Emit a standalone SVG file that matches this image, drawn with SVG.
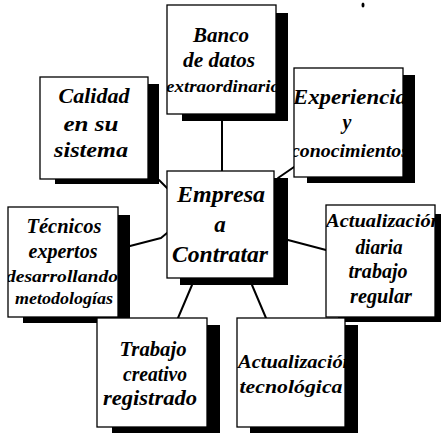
<svg xmlns="http://www.w3.org/2000/svg" width="441" height="433" viewBox="0 0 441 433">
<style>
.bg{fill:#fff}
.sh{fill:#000}
.bx{fill:#fff;stroke:#000;stroke-width:1.3}
.cn{fill:none;stroke:#000;stroke-width:2;stroke-linecap:round;stroke-linejoin:round}
text{font-family:"Liberation Serif","Times New Roman",serif;font-weight:bold;font-style:italic;fill:#000;text-anchor:middle}
.f23{font-size:23px}
.f21{font-size:21px}
.f20{font-size:20px}
.f19{font-size:19px}
.f17{font-size:17px}
</style>
<defs>
<clipPath id="cBanco"><rect x="167" y="5" width="109" height="109"/></clipPath>
<clipPath id="cExp"><rect x="294" y="68" width="109" height="109"/></clipPath>
<clipPath id="cTec"><rect x="8" y="207" width="110" height="110"/></clipPath>
<clipPath id="cDia"><rect x="326" y="205" width="109" height="112"/></clipPath>
<clipPath id="cAtec"><rect x="237" y="318" width="108" height="109"/></clipPath>
</defs>
<rect class="bg" x="0" y="0" width="441" height="433"/>
<ellipse cx="363" cy="5" rx="1.5" ry="2.5" fill="#000"/>

<g id="connectors">
<line class="cn" x1="222" y1="121" x2="222" y2="171"/>
<line class="cn" x1="278" y1="178" x2="294" y2="167"/>
<line class="cn" x1="159" y1="180" x2="167" y2="188"/>
<polyline class="cn" points="130,246 161,238 167,233"/>
<line class="cn" x1="288" y1="240" x2="326" y2="250"/>
<line class="cn" x1="192" y1="285" x2="178" y2="318"/>
<line class="cn" x1="252" y1="285" x2="266" y2="318"/>
</g>

<g id="calidad">
<rect class="sh" x="55" y="84" width="104" height="100"/>
<rect class="bx" x="40" y="77" width="108" height="102"/>
<text class="f21" x="94" y="103" textLength="71" lengthAdjust="spacingAndGlyphs">Calidad</text>
<text class="f21" x="91" y="131" textLength="55" lengthAdjust="spacingAndGlyphs">en su</text>
<text class="f21" x="91" y="157" textLength="74" lengthAdjust="spacingAndGlyphs">sistema</text>
</g>

<g id="banco">
<rect class="sh" x="182" y="13" width="106" height="108"/>
<rect class="bx" x="167" y="5" width="109" height="109"/>
<g clip-path="url(#cBanco)">
<text class="f21" x="221" y="42" textLength="56" lengthAdjust="spacingAndGlyphs">Banco</text>
<text class="f21" x="219" y="67" textLength="72" lengthAdjust="spacingAndGlyphs">de datos</text>
<text class="f17" x="223" y="92" textLength="114" lengthAdjust="spacingAndGlyphs">extraordinario</text>
</g>
</g>

<g id="experiencia">
<rect class="sh" x="307" y="75" width="108" height="108"/>
<rect class="bx" x="294" y="68" width="109" height="109"/>
<g clip-path="url(#cExp)">
<text class="f20" x="350" y="104" textLength="114" lengthAdjust="spacingAndGlyphs">Experiencia</text>
<text class="f20" x="347" y="129">y</text>
<text class="f19" x="350" y="157" textLength="118" lengthAdjust="spacingAndGlyphs">conocimientos</text>
</g>
</g>

<g id="empresa">
<rect class="sh" x="180" y="178" width="108" height="107"/>
<rect class="bx" x="167" y="171" width="107" height="107"/>
<text class="f23" x="221" y="202" textLength="88" lengthAdjust="spacingAndGlyphs">Empresa</text>
<text class="f23" x="220" y="232">a</text>
<text class="f23" x="220" y="262" textLength="96" lengthAdjust="spacingAndGlyphs">Contratar</text>
</g>

<g id="tecnicos">
<rect class="sh" x="23" y="215" width="107" height="108"/>
<rect class="bx" x="8" y="207" width="110" height="110"/>
<g clip-path="url(#cTec)">
<text class="f20" x="64" y="233" textLength="75" lengthAdjust="spacingAndGlyphs">Técnicos</text>
<text class="f20" x="63" y="258" textLength="69" lengthAdjust="spacingAndGlyphs">expertos</text>
<text class="f17" x="62" y="282" textLength="112" lengthAdjust="spacingAndGlyphs">desarrollando</text>
<text class="f17" x="64" y="304" textLength="98" lengthAdjust="spacingAndGlyphs">metodologías</text>
</g>
</g>

<g id="trabajo">
<rect class="sh" x="112" y="325" width="108" height="110"/>
<rect class="bx" x="97" y="318" width="110" height="109"/>
<text class="f20" x="153" y="356" textLength="67" lengthAdjust="spacingAndGlyphs">Trabajo</text>
<text class="f20" x="155" y="381" textLength="64" lengthAdjust="spacingAndGlyphs">creativo</text>
<text class="f20" x="150" y="405" textLength="94" lengthAdjust="spacingAndGlyphs">registrado</text>
</g>

<g id="diaria">
<rect class="sh" x="338" y="214" width="106" height="108"/>
<rect class="bx" x="326" y="205" width="109" height="112"/>
<g clip-path="url(#cDia)">
<text class="f19" x="384" y="227" textLength="116" lengthAdjust="spacingAndGlyphs">Actualización</text>
<text class="f20" x="379" y="254" textLength="47" lengthAdjust="spacingAndGlyphs">diaria</text>
<text class="f20" x="378" y="278" textLength="59" lengthAdjust="spacingAndGlyphs">trabajo</text>
<text class="f20" x="381" y="303" textLength="62" lengthAdjust="spacingAndGlyphs">regular</text>
</g>
</g>

<g id="tecnologica">
<rect class="sh" x="250" y="325" width="108" height="110"/>
<rect class="bx" x="237" y="318" width="108" height="109"/>
<g clip-path="url(#cAtec)">
<text class="f19" x="296" y="368" textLength="116" lengthAdjust="spacingAndGlyphs">Actualización</text>
<text class="f19" x="291" y="393" textLength="103" lengthAdjust="spacingAndGlyphs">tecnológica</text>
</g>
</g>
</svg>
